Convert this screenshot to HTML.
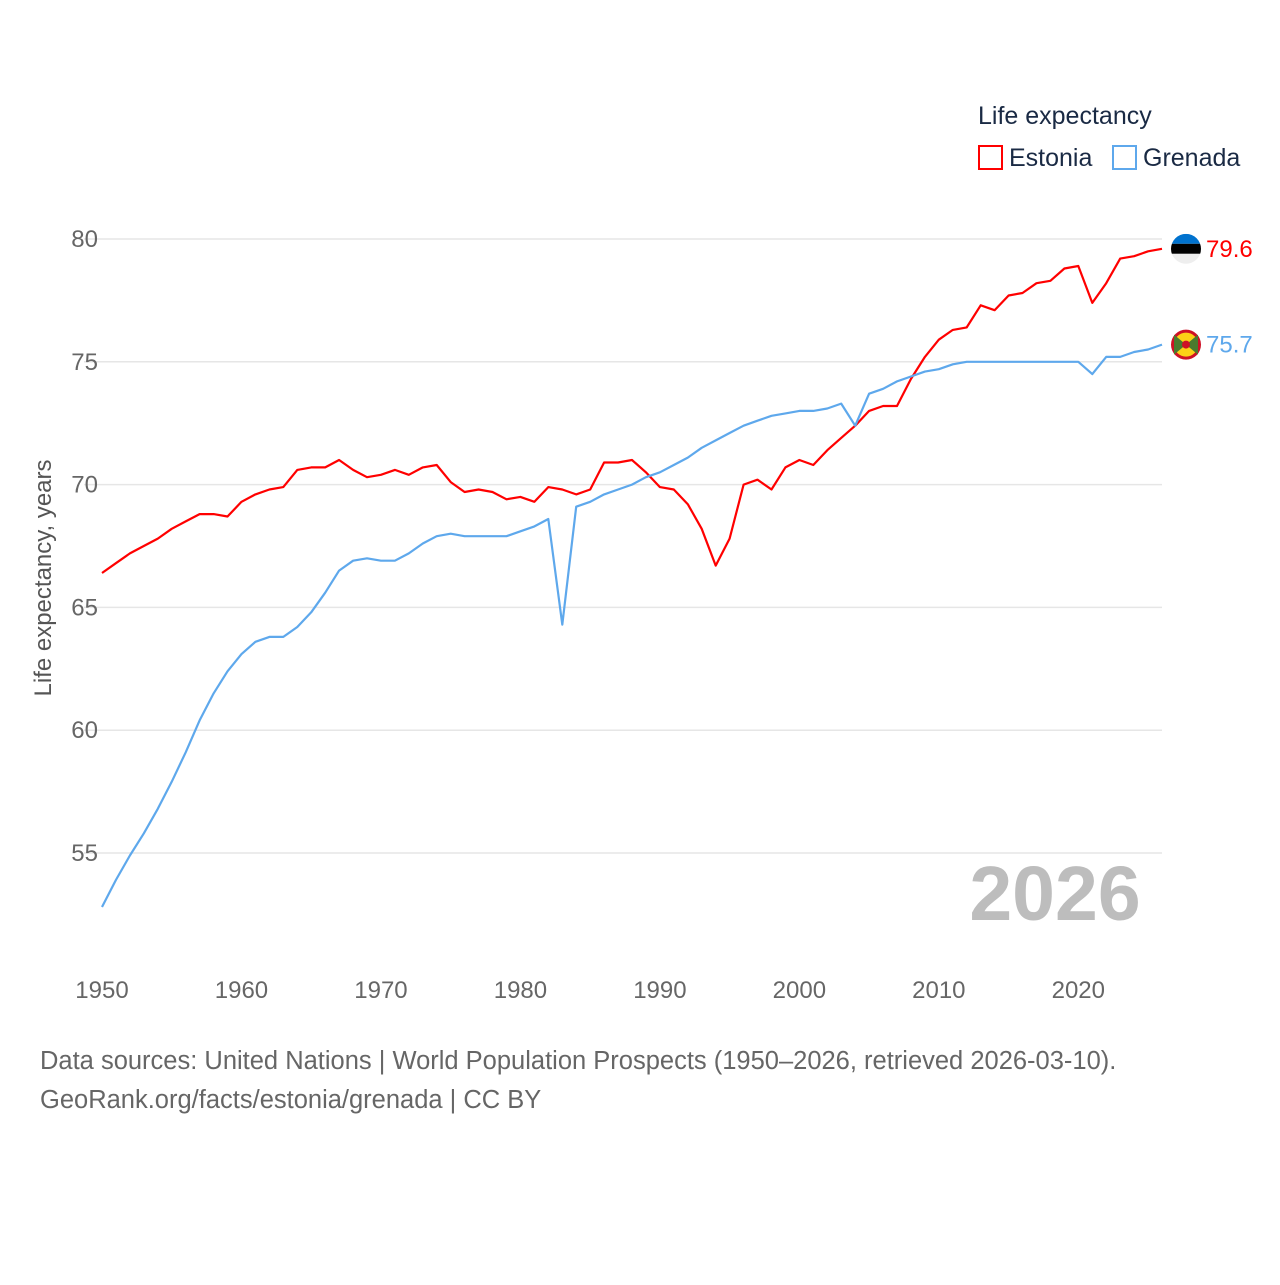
<!DOCTYPE html>
<html><head><meta charset="utf-8"><style>
body{margin:0;background:#fff;font-family:"Liberation Sans",sans-serif}
svg text{font-family:"Liberation Sans",sans-serif}
</style></head><body>
<svg id="chart" width="1280" height="1280" viewBox="0 0 1280 1280">
<g id="grid"></g>
<g id="yticks"></g>
<g id="xticks"></g>
<text x="1055" y="920" font-size="77" font-weight="bold" fill="#bdbdbd" text-anchor="middle">2026</text>
<text transform="translate(51,578) rotate(-90)" font-size="24" fill="#555" text-anchor="middle">Life expectancy, years</text>
<g id="series"></g>
<g>
<text x="978" y="124" font-size="25" fill="#1a2a44">Life expectancy</text>
<g><rect x="979" y="146" width="23" height="23" fill="none" stroke="#ff0000" stroke-width="2"/><text x="1009" y="166" font-size="25" fill="#1a2a44">Estonia</text></g>
<g><rect x="1113" y="146" width="23" height="23" fill="none" stroke="#5ea8ec" stroke-width="2"/><text x="1143" y="166" font-size="25" fill="#1a2a44">Grenada</text></g>
</g>
<g>
<text x="40" y="1069" font-size="25.5" fill="#666">Data sources: United Nations | World Population Prospects (1950–2026, retrieved 2026-03-10).</text>
<text x="40" y="1108" font-size="25.5" fill="#666">GeoRank.org/facts/estonia/grenada | CC BY</text>
</g>
</svg>
<script>
const years=[];for(let y=1950;y<=2026;y++)years.push(y);
const estonia=[66.4,66.8,67.2,67.5,67.8,68.2,68.5,68.8,68.8,68.7,69.3,69.6,69.8,69.9,70.6,70.7,70.7,71.0,70.6,70.3,70.4,70.6,70.4,70.7,70.8,70.1,69.7,69.8,69.7,69.4,69.5,69.3,69.9,69.8,69.6,69.8,70.9,70.9,71.0,70.5,69.9,69.8,69.2,68.2,66.7,67.8,70.0,70.2,69.8,70.7,71.0,70.8,71.4,71.9,72.4,73.0,73.2,73.2,74.3,75.2,75.9,76.3,76.4,77.3,77.1,77.7,77.8,78.2,78.3,78.8,78.9,77.4,78.2,79.2,79.3,79.5,79.6];
const grenada=[52.8,53.9,54.9,55.8,56.8,57.9,59.1,60.4,61.5,62.4,63.1,63.6,63.8,63.8,64.2,64.8,65.6,66.5,66.9,67.0,66.9,66.9,67.2,67.6,67.9,68.0,67.9,67.9,67.9,67.9,68.1,68.3,68.6,64.3,69.1,69.3,69.6,69.8,70.0,70.3,70.5,70.8,71.1,71.5,71.8,72.1,72.4,72.6,72.8,72.9,73.0,73.0,73.1,73.3,72.4,73.7,73.9,74.2,74.4,74.6,74.7,74.9,75.0,75.0,75.0,75.0,75.0,75.0,75.0,75.0,75.0,74.5,75.2,75.2,75.4,75.5,75.7];
const yTicks=[55,60,65,70,75,80];
const xTicks=[1950,1960,1970,1980,1990,2000,2010,2020];
const NS='http://www.w3.org/2000/svg';
const xs=y=>102+(y-1950)*(1162-102)/76;
const ys=v=>239+(80-v)*(853-239)/25;
function mk(t,a,p){const e=document.createElementNS(NS,t);for(const k in a)e.setAttribute(k,a[k]);p.appendChild(e);return e;}
const grid=document.getElementById('grid'),yt=document.getElementById('yticks'),xt=document.getElementById('xticks'),ser=document.getElementById('series');
yTicks.forEach(v=>{
 const l=mk('line',{x1:84,x2:1162,y1:ys(v),y2:ys(v),stroke:'#e6e6e6','stroke-width':1.5},grid);
 
 
 const t=mk('text',{x:98,y:ys(v)+8,'font-size':24,fill:'#666','text-anchor':'end'},yt);t.textContent=v;
 
 
});
xTicks.forEach(v=>{
 const t=mk('text',{x:xs(v),y:998,'font-size':24,fill:'#666','text-anchor':'middle'},xt);t.textContent=v;
 
 
});
function line(vals,col,name){
 const d=vals.map((v,i)=>(i?'L':'M')+xs(years[i]).toFixed(1)+','+ys(v).toFixed(1)).join('');
 const p=mk('path',{d:d,fill:'none',stroke:col,'stroke-width':2.2,'stroke-linejoin':'round'},ser);
 
 
 const last=vals[vals.length-1],cy=ys(last);
 const t=mk('text',{x:1206,y:cy+8,'font-size':24,fill:col},ser);t.textContent=last.toFixed(1);
 
 
 return cy;
}
const ce=line(estonia,'#ff0000','estonia');
const cg=line(grenada,'#5ea8ec','grenada');
const fe=mk('g',{},ser);


const cp=mk('clipPath',{id:'ce'},fe);
mk('circle',{cx:1186,cy:ce,r:15},cp);
const ge=mk('g',{'clip-path':'url(#ce)'},fe);
mk('rect',{x:1171,y:ce-15,width:30,height:10,fill:'#0072ce'},ge);
mk('rect',{x:1171,y:ce-5,width:30,height:10,fill:'#000'},ge);
mk('rect',{x:1171,y:ce+5,width:30,height:10,fill:'#eee'},ge);
const fg=mk('g',{},ser);


mk('circle',{cx:1186,cy:cg,r:15,fill:'#ce1126'},fg);
mk('circle',{cx:1186,cy:cg,r:12,fill:'#fcd116'},fg);
mk('path',{d:`M1174,${cg-10}L1198,${cg+10}L1198,${cg-10}L1174,${cg+10}Z`,fill:'#4a7a2e'},fg);
mk('circle',{cx:1186,cy:cg,r:4,fill:'#ce1126'},fg);
</script>
</body></html>
